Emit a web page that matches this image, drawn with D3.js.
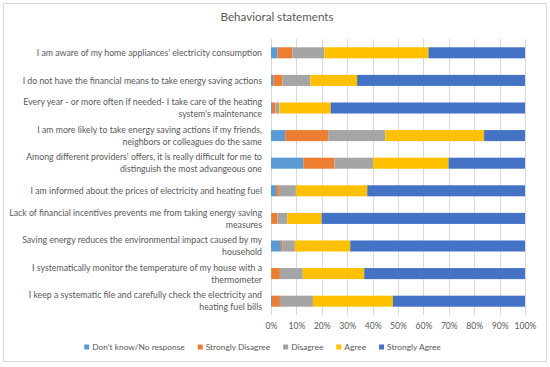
<!DOCTYPE html>
<html>
<head>
<meta charset="utf-8">
<script src="https://cdn.jsdelivr.net/npm/d3@7"></script>
<style>
  body { margin: 0; background: #fff; }
  text { font-family: Lato, "Open Sans", sans-serif; fill: #595959; }
</style>
</head>
<body>
<div id="chart"></div>
<script>
var statements = [
  "I am aware of my home appliances' electricity consumption",
  "I do not have the financial means to take energy saving actions",
  "Every year - or more often if needed- I take care of the heating\nsystem's maintenance",
  "I am more likely to take energy saving actions if my friends,\nneighbors or colleagues do the same",
  "Among different providers' offers, it is really difficult for me to\ndistinguish the most advangeous one",
  "I am informed about the prices of electricity and heating fuel",
  "Lack of financial incentives prevents me from taking energy saving\nmeasures",
  "Saving energy reduces the environmental impact caused by my\nhousehold",
  "I systematically monitor the temperature of my house with a\nthermometer",
  "I keep a systematic file and carefully check the electricity and\nheating fuel bills"
]

var responses = ["Don't know/No response", "Strongly Disagree", "Disagree", "Agree", "Strongly Agree"]

var dontKnow         = [2.6, 0.9, 0.4, 5.6, 12.7, 2.0, 0.1, 3.9, 0.1, 0.4]
var stronglyDisagree = [5.8, 3.6, 1.3, 16.9, 12.3, 1.1, 2.4, 0.7, 3.4, 3.1]
var disagree         = [12.6, 11.0, 1.6, 22.5, 15.2, 6.7, 3.9, 4.8, 9.0, 13.0]
var agree            = [41.0, 18.4, 20.2, 38.9, 29.7, 28.1, 13.5, 21.8, 24.2, 31.5]
var stronglyAgree    = [38.0, 66.1, 76.5, 16.1, 30.1, 62.1, 80.1, 68.8, 63.3, 52.0]

var ticks = [0, 10, 20, 30, 40, 50, 60, 70, 80, 90, 100]

var colors = ["#5B9BD5", "#ED7D31", "#A5A5A5", "#FFC000", "#4472C4"]

document.addEventListener("DOMContentLoaded", function() {
  draw()
});

function draw(){
  var width = 550, height = 367
  var margin = {top: 39, right: 25, bottom: 52, left: 271}

  var svg = d3.select("#chart").append("svg")
    .attr("width", width)
    .attr("height", height)

  // chart frame
  svg.append("rect")
    .attr("x", 3.5).attr("y", 3.5)
    .attr("width", 543).attr("height", 358)
    .attr("fill", "#fff")
    .attr("stroke", "#d9d9d9")

  svg.append("text")
    .attr("x", 277).attr("y", 21)
    .attr("text-anchor", "middle")
    .style("font-size", "11.6px")
    .text("Behavioral statements")

  var rows = statements.map(function(s, i){
    var obj = {label: s}
    obj[responses[0]] = dontKnow[i]
    obj[responses[1]] = stronglyDisagree[i]
    obj[responses[2]] = disagree[i]
    obj[responses[3]] = agree[i]
    obj[responses[4]] = stronglyAgree[i]
    return obj
  })

  var stacked = d3.stack().keys(responses)(rows)

  var x = d3.scaleLinear()
    .domain([0, 100])
    .range([margin.left, width - margin.right])

  var y = d3.scaleBand()
    .domain(statements)
    .range([margin.top, height - margin.bottom])
    .paddingInner(0.6)
    .paddingOuter(0.3)

  // gridlines
  svg.append("g")
    .selectAll("line")
    .data(ticks)
    .enter()
    .append("line")
    .attr("x1", function(d){ return Math.round(x(d)) + 0.5 })
    .attr("x2", function(d){ return Math.round(x(d)) + 0.5 })
    .attr("y1", margin.top)
    .attr("y2", height - margin.bottom)
    .attr("stroke", "#d9d9d9")

  var layers = svg.selectAll("g.layer")
    .data(stacked)
    .enter()
    .append("g")
    .attr("class", "layer")
    .attr("fill", function(d, i){ return colors[i] })

  layers.selectAll("rect")
    .data(function(d){ return d })
    .enter()
    .append("rect")
    .attr("x", function(d){ return x(d[0]) })
    .attr("y", function(d){ return y(d.data.label) })
    .attr("height", y.bandwidth())
    .attr("width", function(d){ return x(d[1]) - x(d[0]) })

  // category labels
  var labels = svg.append("g").selectAll("text")
    .data(statements)
    .enter()
    .append("text")
    .attr("text-anchor", "end")
    .style("font-size", "8.75px")
    .attr("y", function(d){ return y(d) + y.bandwidth() / 2 })

  labels.each(function(d){
    var lines = d.split("\n")
    var t = d3.select(this)
    lines.forEach(function(l, j){
      t.append("tspan")
        .attr("x", 262)
        .attr("dy", j === 0 ? ((-(lines.length - 1) * 12) / 2 + 3.1) + "px" : "12px")
        .text(l)
    })
  })

  // x axis
  var axis = svg.append("g")
    .attr("transform", "translate(0," + (height - margin.bottom) + ")")
    .call(d3.axisBottom(x).tickValues(ticks).tickFormat(function(d){ return d + "%" }).tickSize(0).tickPadding(8))
  axis.select(".domain").remove()
  axis.selectAll("text")
    .style("font-family", "Lato, sans-serif")
    .style("font-size", "8.6px")
    .attr("fill", "#595959")

  // legend
  var legend = svg.append("g")
  var lx = 0
  responses.forEach(function(r, i){
    var g = legend.append("g").attr("transform", "translate(" + lx + ",0)")
    g.append("rect").attr("x", 0).attr("y", -5.5).attr("width", 5).attr("height", 5).attr("fill", colors[i])
    var t = g.append("text").attr("x", 8).attr("y", 0).style("font-size", "8.4px").text(r)
    lx += 8 + t.node().getComputedTextLength() + 13
  })
  lx -= 13
  legend.attr("transform", "translate(" + (262.5 - lx / 2) + ",350)")
}
</script>
</body>
</html>
